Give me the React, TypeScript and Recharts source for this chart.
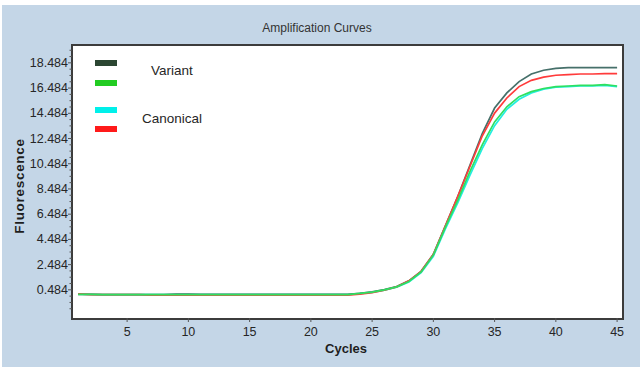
import React from 'react';
import { LineChart, Line, XAxis, YAxis } from 'recharts';

const cycles = [1, 2, 3, 4, 5, 6, 7, 8, 9, 10, 11, 12, 13, 14, 15, 16, 17, 18, 19, 20, 21, 22, 23, 24, 25, 26, 27, 28, 29, 30, 31, 32, 33, 34, 35, 36, 37, 38, 39, 40, 41, 42, 43, 44, 45];

const variantDark = [0.13, 0.12, 0.11, 0.11, 0.11, 0.11, 0.11, 0.11, 0.15, 0.15, 0.12, 0.12, 0.12, 0.12, 0.12, 0.12, 0.12, 0.12, 0.12, 0.12, 0.12, 0.12, 0.13,
  0.2, 0.32, 0.5, 0.75, 1.2, 1.95, 3.3, 5.6, 7.9, 10.4, 12.9, 14.9, 16.1, 17.0, 17.6, 17.9, 18.05, 18.1, 18.1, 18.1, 18.1, 18.1];

const variantGreen = [0.13, 0.12, 0.11, 0.11, 0.11, 0.11, 0.11, 0.11, 0.11, 0.11, 0.11, 0.11, 0.11, 0.11, 0.11, 0.11, 0.11, 0.11, 0.11, 0.11, 0.11, 0.11, 0.11,
  0.2, 0.3, 0.48, 0.72, 1.15, 1.9, 3.25, 5.5, 7.6, 9.9, 12.0, 13.8, 15.0, 15.8, 16.2, 16.45, 16.6, 16.65, 16.7, 16.7, 16.75, 16.65];

const canonicalCyan = [0.14, 0.13, 0.1, 0.1, 0.1, 0.1, 0.1, 0.1, 0.1, 0.1, 0.1, 0.1, 0.1, 0.1, 0.1, 0.1, 0.1, 0.1, 0.1, 0.1, 0.1, 0.1, 0.1,
  0.18, 0.28, 0.46, 0.7, 1.1, 1.85, 3.15, 5.35, 7.4, 9.6, 11.7, 13.5, 14.8, 15.6, 16.1, 16.4, 16.55, 16.6, 16.65, 16.65, 16.7, 16.6];

const canonicalRed = [0.16, 0.11, 0.1, 0.1, 0.1, 0.1, 0.065, 0.065, 0.065, 0.065, 0.065, 0.065, 0.065, 0.065, 0.065, 0.065, 0.065, 0.065, 0.065, 0.065, 0.065, 0.065, 0.065,
  0.15, 0.26, 0.45, 0.72, 1.2, 1.95, 3.3, 5.6, 7.9, 10.3, 12.7, 14.5, 15.7, 16.6, 17.1, 17.35, 17.5, 17.55, 17.6, 17.6, 17.63, 17.63];

const xTicks = [5, 10, 15, 20, 25, 30, 35, 40, 45];
const yMajorTicks = [0.484, 2.484, 4.484, 6.484, 8.484, 10.484, 12.484, 14.484, 16.484, 18.484];
const yMinorOffsets = [-1.5, -1, -0.5];
const yExtraMinor = [18.984, 19.484];

const yTicks = [
  ...yMajorTicks.flatMap((t) => [...yMinorOffsets.map((o) => +(t + o).toFixed(3)), t]),
  ...yExtraMinor,
];

const data = cycles.map((c, i) => ({
  cycle: c,
  dark: variantDark[i],
  green: variantGreen[i],
  cyan: canonicalCyan[i],
  red: canonicalRed[i],
}));

const FONT = '"Liberation Sans", Arial, sans-serif';
const TXT = '#262626';

const YTick = (props: any) => {
  const { x, y, payload } = props;
  const v = payload.value;
  const isMajor = yMajorTicks.some((t) => Math.abs(t - v) < 1e-6);
  return (
    <g>
      <line x1={x - (isMajor ? 4 : 2.5)} y1={y} x2={x} y2={y} stroke="#555" strokeWidth={1} />
      {isMajor && (
        <text x={x - 4} y={y} textAnchor="end" dominantBaseline="central" fontFamily={FONT} fontSize={12.5} fill={TXT}>
          {v.toFixed(3)}
        </text>
      )}
    </g>
  );
};

const XTick = (props: any) => {
  const { x, y, payload } = props;
  return (
    <g>
      <line x1={x} y1={y} x2={x} y2={y + 4} stroke="#555" strokeWidth={1} />
      <text x={x} y={y + 14} textAnchor="middle" dominantBaseline="central" fontFamily={FONT} fontSize={12.5} fill={TXT}>
        {payload.value}
      </text>
    </g>
  );
};

const legendItems = [
  { color: '#2b4632', top: 60 },
  { color: '#22cc22', top: 80 },
  { color: '#00f0ea', top: 107 },
  { color: '#ff1a1a', top: 126 },
];

export default function App() {
  return (
    <div style={{ position: 'absolute', left: 0, top: 0, width: 642, height: 375, background: '#ffffff', overflow: 'hidden' }}>
      <div style={{ position: 'absolute', left: 2, top: 5, width: 638, height: 362, background: '#c4d6e7' }} />
      <div style={{ position: 'absolute', left: 71, top: 44, width: 553, height: 276, boxSizing: 'border-box', background: '#ffffff', border: '2px solid #3c3c3c' }} />
      <div style={{ position: 'absolute', left: 0, top: 20, width: 634, textAlign: 'center', fontFamily: FONT, fontSize: 12, color: '#333', lineHeight: '16px' }}>
        Amplification Curves
      </div>
      <div style={{ position: 'absolute', left: 0, top: 0 }}>
        <LineChart width={642} height={375} data={data} margin={{ top: 45, right: 20, left: 0, bottom: 27 }}>
          <XAxis
            dataKey="cycle"
            type="number"
            domain={[0.5, 45.4]}
            ticks={xTicks}
            interval={0}
            allowDataOverflow
            axisLine={false}
            tickLine={false}
            tickSize={0}
            tickMargin={0}
            height={30}
            tick={<XTick />}
          />
          <YAxis
            type="number"
            domain={[-1.75, 19.9]}
            ticks={yTicks}
            interval={0}
            allowDataOverflow
            axisLine={false}
            tickLine={false}
            tickSize={0}
            tickMargin={0}
            width={72}
            tick={<YTick />}
          />
          <Line dataKey="cyan" stroke="#22eee0" strokeWidth={1.7} dot={false} isAnimationActive={false} />
          <Line dataKey="dark" stroke="#46706a" strokeWidth={1.7} dot={false} isAnimationActive={false} />
          <Line dataKey="red" stroke="#ff3b3b" strokeWidth={1.7} dot={false} isAnimationActive={false} />
          <Line dataKey="green" stroke="#2ee060" strokeWidth={1.7} dot={false} isAnimationActive={false} />
        </LineChart>
      </div>
      {legendItems.map((it, i) => (
        <div key={i} style={{ position: 'absolute', left: 95, top: it.top, width: 22, height: 6, background: it.color }} />
      ))}
      <div style={{ position: 'absolute', left: 151, top: 63, fontFamily: FONT, fontSize: 13.5, color: TXT, lineHeight: '16px' }}>Variant</div>
      <div style={{ position: 'absolute', left: 142, top: 111, fontFamily: FONT, fontSize: 13.5, color: TXT, lineHeight: '16px' }}>Canonical</div>
      <div style={{ position: 'absolute', left: 346, top: 341, transform: 'translateX(-50%)', fontFamily: FONT, fontSize: 13, fontWeight: 'bold', color: '#1e1e1e', lineHeight: '16px' }}>Cycles</div>
      <div style={{ position: 'absolute', left: 20, top: 186, transform: 'translate(-50%, -50%) rotate(-90deg)', fontFamily: FONT, fontSize: 13.5, letterSpacing: 0.7, fontWeight: 'bold', color: '#1e1e1e', lineHeight: '16px', whiteSpace: 'nowrap' }}>Fluorescence</div>
    </div>
  );
}
